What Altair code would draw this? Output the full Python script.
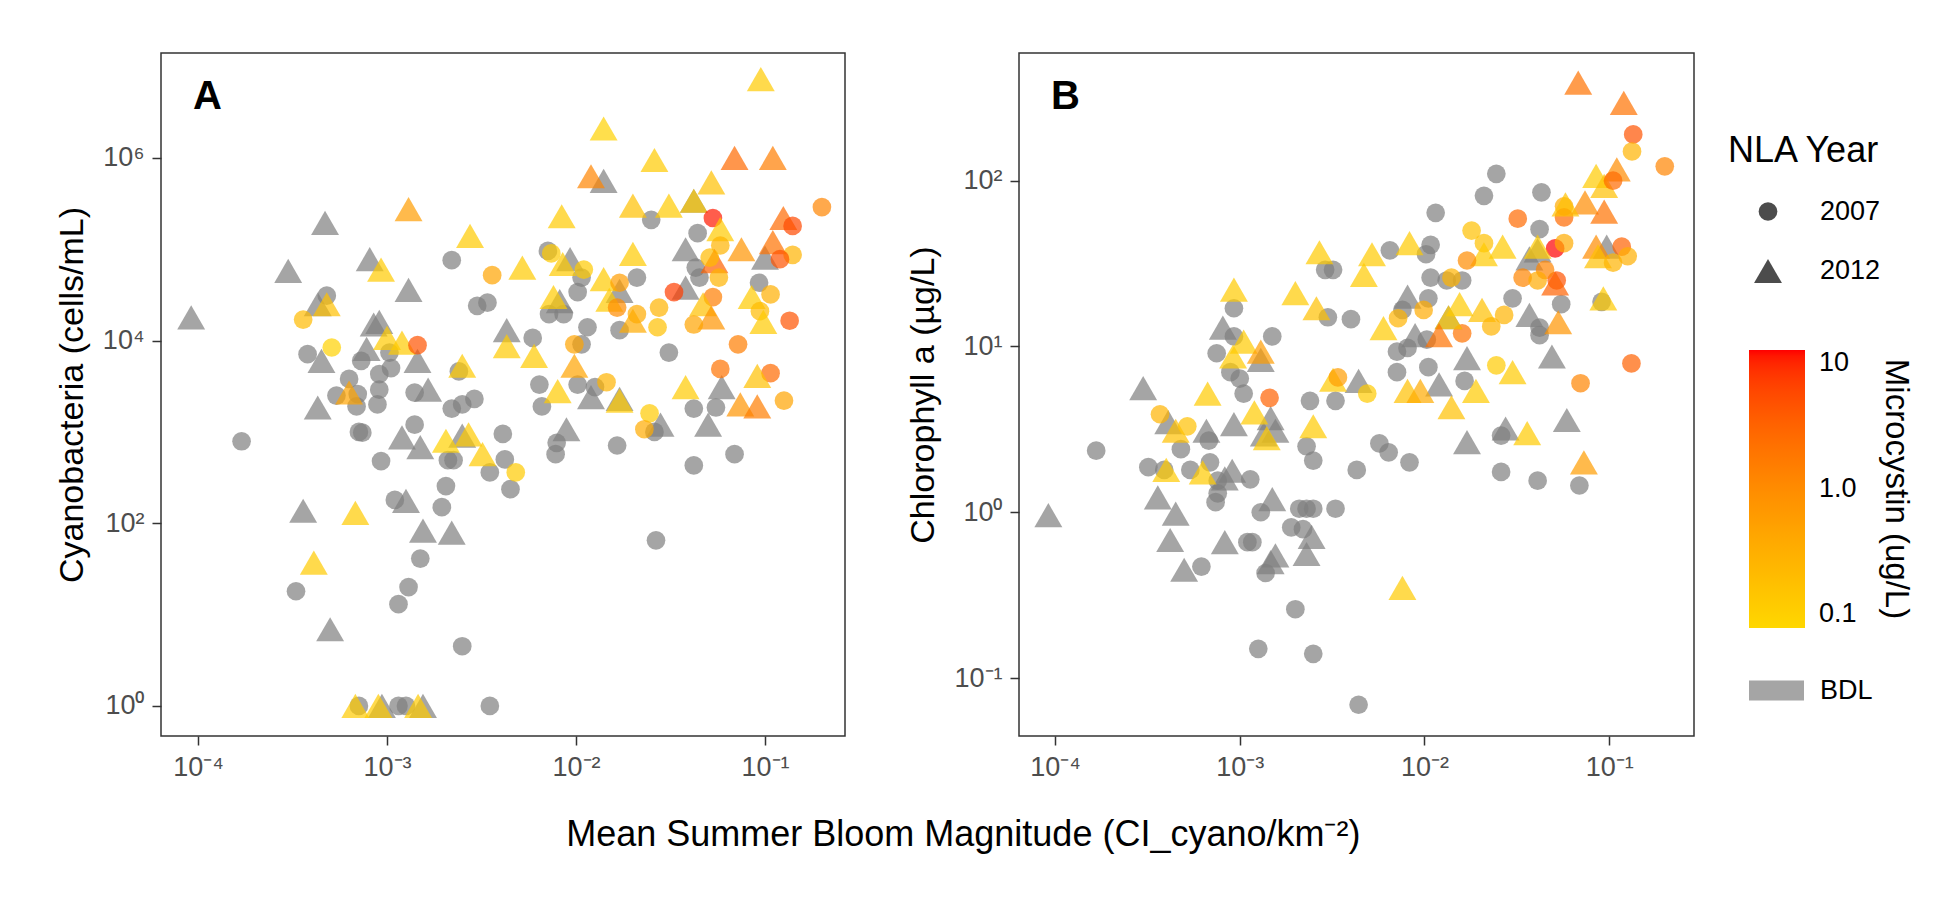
import altair as alt
import pandas as pd

FONT = "Liberation Sans"
N = None

# ---------------- Panel A : Cyanobacteria (cells/mL) ----------------
a_x = [9.2e-5, 4.7e-4, 3.0e-4, 1.3e-3, 2.75e-3, 2.2e-3, 3.6e-3, 8.1e-4, 9.3e-4, 1.3e-3,
       3.0e-3, 3.4e-3, 4.8e-4, 4.3e-4, 4.8e-4, 3.6e-4, 5.1e-4, 3.8e-4, 4.5e-4, 8.5e-4,
       9.1e-4, 1.0e-3, 1.2e-3, 1.45e-3, 7.8e-4, 7.3e-4, 1.03e-3, 1.05e-3, 9.1e-4, 6.3e-4,
       9.1e-4, 5.4e-4, 7.0e-4, 1.45e-3, 2.5e-3, 2.4e-3, 1.65e-3, 1.4e-3, 4.3e-3, 4.3e-3,
       4.3e-4, 6.3e-4, 6.9e-4, 8.9e-4, 2.2e-3, 2.5e-3, 2.9e-3, 1.7e-4, 7.1e-4, 7.4e-4,
       1.4e-3, 1.2e-3, 1.5e-3, 2.05e-3, 2.5e-3, 2.7e-3, 3.2e-3, 2.1e-3, 2.25e-3, 9.3e-4,
       3.5e-3, 4.1e-3, 4.2e-3, 2.05e-3, 1.95e-3, 1.1e-3, 1.26e-3, 3.6e-4, 6.8e-4, 1.55e-3,
       2.2e-3, 1.5e-3, 4.1e-4, 3.3e-4, 1.3e-3, 1.15e-3, 5.0e-4, 2.5e-3, 6.8e-4, 7.1e-4,
       9.0e-4, 9.4e-4, 1.15e-3, 1.26e-3, 1.46e-3, 1.55e-3, 3.5e-3, 9.5e-2, 1.4e-2, 2.6e-2,
       6.9e-2, 1.1e-1, 1.2e-2, 1.4e-2, 5.2e-2, 2.0e-2, 3.1e-2, 4.2e-2, 4.2e-2, 8.4e-3,
       2.5e-2, 5.3e-2, 5.8e-2, 4.4e-2, 2.0e-1, 1.25e-1, 1.4e-1, 5.8e-2, 7.5e-2, 1.1e-1,
       3.8e-2, 1.4e-1, 1.2e-1, 1.0e-1, 5.4e-2, 5.1e-2, 9.3e-3, 7.1e-3, 7.4e-3, 5.2e-3,
       8.5e-3, 1.1e-2, 1.07e-2, 1.02e-2, 2.1e-2, 1.4e-2, 2.0e-2, 1.7e-2, 1.7e-2, 1.5e-2,
       1.65e-2, 7.6e-3, 8.2e-3, 7.2e-3, 8.6e-3, 5.9e-3, 6.0e-3, 9.8e-3, 1.07e-2, 1.15e-2,
       1.7e-2, 2.0e-2, 2.1e-2, 2.7e-2, 2.75e-2, 3.3e-2, 3.8e-2, 4.3e-2, 4.5e-2, 5.7e-2,
       5.3e-2, 4.7e-2, 5.2e-2, 4.2e-2, 9.3e-2, 8.5e-2, 1.07e-1, 9.4e-2, 9.8e-2, 1.35e-1,
       3.1e-2, 7.2e-2, 5.8e-2, 1.07e-1, 9.1e-2, 3.8e-2, 5.9e-2, 9.8e-3, 6.4e-3, 1.02e-2,
       1.26e-2, 1.45e-2, 8.0e-3, 1.7e-2, 1.7e-2, 6.6e-3, 1.2e-2, 2.45e-2, 2.3e-2, 2.8e-2,
       2.6e-2, 4.2e-2, 5.5e-2, 5.0e-2, 7.4e-2, 9.1e-2, 1.26e-1, 8.9e-3, 7.9e-3, 7.8e-3,
       4.8e-3, 4.5e-3, 1.65e-2, 4.2e-2, 6.9e-2, 2.65e-2]
a_y = [1.8e4, 1.95e5, 5.8e4, 2.75e5, 1.4e5, 7.6e4, 5.2e4, 7.8e4, 6.0e4, 3.6e4,
       2.4e4, 2.6e4, 3.1e4, 2.5e4, 2.5e4, 1.7e4, 8.4e3, 7.1e3, 6.0e3, 1.5e4,
       1.6e4, 1.07e4, 9.5e3, 8.9e3, 8.1e3, 6.0e3, 7.4e3, 5.0e3, 4.3e3, 3.8e3,
       2.9e3, 2.5e3, 2.6e3, 6.0e3, 5.3e3, 4.6e3, 2.9e3, 2.7e3, 1.3e4, 8.7e3,
       1.85e3, 2.7e3, 1.9e3, 2.0e3, 1.8e3, 2.0e3, 2.3e3, 790, 1.0e3, 980,
       1.2e3, 870, 680, 800, 910, 940, 570, 490, 490, 480,
       360, 950, 500, 255, 150, 180, 176, 137, 130, 83,
       79, 41, 37, 18, 20, 13, 6.9, 4.5, 1, 1,
       1, 1, 1, 1, 1, 1, 1, 7.3e6, 2.1e6, 9.5e5,
       1.0e6, 1.0e6, 6.3e5, 5.6e5, 5.4e5, 3.0e5, 3.0e5, 3.4e5, 3.4e5, 2.3e5,
       2.1e5, 2.2e5, 1.66e5, 1.5e5, 2.9e5, 2.2e5, 1.8e5, 1.1e5, 1.0e5, 1.2e5,
       1.0e5, 8.7e4, 7.8e4, 8.1e4, 7.4e4, 8.1e4, 7.8e4, 9.6e4, 9.0e4, 6.3e4,
       6.9e4, 6.0e4, 4.9e4, 3.4e4, 4.9e4, 4.7e4, 8.9e4, 4.3e4, 3.5e4, 2.8e4,
       2.3e4, 3.0e4, 2.7e4, 1.95e4, 1.95e4, 1.07e4, 6.8e3, 9.1e3, 9.1e3, 1.4e4,
       1.3e4, 1.65e4, 1.95e4, 1.4e4, 2.3e4, 3.4e4, 3.8e4, 6.3e4, 4.9e4, 4.9e4,
       3.0e4, 2.5e4, 1.8e4, 1.5e4, 4.3e4, 3.0e4, 3.2e4, 2.1e4, 1.6e4, 1.65e4,
       7.4e3, 9.1e3, 4.9e3, 4.4e3, 4.1e3, 3.1e3, 3.1e3, 5.3e3, 3.3e3, 3.3e3,
       3.1e3, 3.5e3, 2.8e3, 2.3e3, 2.2e3, 1.9e3, 2.4e3, 1.6e3, 1.07e3, 1.2e3,
       1.0e3, 1.8e3, 1.85e3, 1.2e3, 2.0e3, 1.9e3, 2.2e3, 1.07e3, 760, 570,
       360, 236, 710, 430, 570, 65]
a_year = [2012, 2012, 2012, 2012, 2012, 2007, 2007, 2012, 2012, 2012,
          2007, 2007, 2007, 2012, 2012, 2007, 2007, 2007, 2012, 2012,
          2012, 2012, 2012, 2007, 2012, 2007, 2007, 2007, 2007, 2007,
          2007, 2007, 2007, 2012, 2012, 2007, 2012, 2007, 2012, 2012,
          2012, 2012, 2007, 2007, 2007, 2007, 2007, 2007, 2007, 2007,
          2007, 2012, 2012, 2012, 2012, 2012, 2012, 2007, 2007, 2007,
          2007, 2007, 2007, 2007, 2007, 2007, 2012, 2012, 2012, 2012,
          2012, 2007, 2012, 2007, 2007, 2007, 2012, 2007, 2012, 2007,
          2012, 2012, 2007, 2007, 2012, 2012, 2007, 2012, 2012, 2012,
          2012, 2012, 2012, 2012, 2012, 2012, 2012, 2012, 2012, 2012,
          2007, 2007, 2012, 2007, 2007, 2012, 2007, 2007, 2012, 2012,
          2012, 2007, 2007, 2012, 2012, 2007, 2012, 2007, 2007, 2012,
          2012, 2007, 2007, 2007, 2007, 2012, 2012, 2007, 2012, 2012,
          2007, 2012, 2012, 2007, 2007, 2007, 2012, 2007, 2007, 2007,
          2007, 2012, 2007, 2007, 2007, 2007, 2012, 2007, 2007, 2007,
          2007, 2012, 2012, 2007, 2007, 2012, 2007, 2007, 2012, 2007,
          2007, 2007, 2007, 2007, 2012, 2012, 2012, 2012, 2007, 2007,
          2007, 2007, 2012, 2012, 2012, 2007, 2012, 2007, 2007, 2012,
          2007, 2007, 2007, 2012, 2012, 2012, 2007, 2012, 2007, 2007,
          2007, 2007, 2007, 2007, 2007, 2007]
a_mc = [N, N, N, 0.6, 0.15, N, 0.5, N, 0.15, N,
        N, N, N, N, 0.2, 0.25, 0.12, N, N, N,
        N, 0.15, 0.15, 4, N, N, N, N, N, N,
        N, N, N, N, 0.15, N, N, N, N, 0.15,
        N, 0.5, N, N, N, N, N, N, N, N,
        N, N, N, 0.12, N, 0.15, 0.15, N, N, N,
        N, N, N, N, N, N, N, N, 0.15, N,
        N, N, 0.15, N, N, N, N, N, 0.15, N,
        0.15, N, N, N, 0.15, N, N, 0.15, 0.12, 0.15,
        2.5, 1.5, 1.2, N, 0.2, 0.2, 0.15, 0.15, N, 0.15,
        N, 9, 0.15, N, 1.2, 2.5, 5, 0.3, 0.8, 2,
        N, 0.3, 4, N, 3, 0.25, N, N, 0.15, 0.15,
        0.15, 0.15, N, N, N, 0.15, 0.15, 0.6, N, 0.15,
        1.0, 0.15, N, N, N, N, 0.15, 0.5, N, N,
        N, 0.4, 0.4, 0.2, 0.3, 6, N, N, N, 0.3,
        1.5, 0.2, 0.8, 0.5, N, 0.15, 0.35, 0.25, 0.15, 4,
        N, 1.5, 2, 2.5, 0.2, 0.15, N, 0.5, N, N,
        N, 0.3, 0.15, N, 0.15, N, N, 0.15, 0.4, N,
        N, N, N, N, 0.8, 1.5, 0.5, N, N, N,
        0.15, N, N, N, N, N]

# ---------------- Panel B : Chlorophyll a (ug/L) ----------------
b_x = [2.7e-3, 2.9e-3, 3.2e-3, 9.3e-4, 9.3e-4, 2.0e-3, 2.6e-3, 3.0e-3, 8.1e-4, 1.5e-3,
       9.3e-4, 1.05e-3, 7.5e-4, 1.3e-3, 1.3e-3, 9.2e-4, 8.9e-4, 1.0e-3, 1.05e-3, 3.0e-4,
       6.7e-4, 1.45e-3, 2.4e-3, 3.2e-3, 3.4e-3, 6.8e-2, 1.2e-1, 1.35e-1, 1.33e-1, 2.45e-2,
       2.1e-2, 4.3e-2, 1.15e-2, 8.5e-2, 1.1e-1, 9.4e-2, 1.05e-1, 7.4e-2, 9.4e-2, 5.7e-2,
       5.7e-2, 5.8e-2, 5.1e-2, 5.7e-2, 1.17e-1, 3.2e-2, 4.2e-2, 4.1e-2, 1.8e-2, 2.1e-2,
       2.65e-2, 2.1e-2, 8.3e-3, 6.5e-3, 1.08e-2, 1.02e-2, 5.2e-3, 4.7e-3, 1.7e-2, 1.08e-2,
       1.32e-2, 1.6e-2, 1.4e-2, 3.7e-2, 4.1e-2, 3.4e-2, 5.2e-2, 5.1e-2, 4.5e-2, 4.1e-2,
       8.5e-2, 9.7e-2, 8.7e-2, 1.05e-1, 1.26e-1, 3.0e-2, 8.1e-3, 1.05e-2, 7.6e-3, 9.9e-3,
       1.55e-2, 2.05e-2, 2.7e-2, 2.3e-2, 3.7e-2, 4.2e-2, 4.2e-2, 5.3e-2, 5.5e-2, 9.1e-2,
       9.3e-2, 1.6e-2, 1.35e-2, 1.35e-2, 6.0e-3, 7.2e-3, 4.0e-3, 1.2e-2, 8.9e-3, 7.1e-3,
       8.1e-3, 1.03e-2, 7.1e-3, 1.05e-2, 1.7e-2, 2.45e-2, 3.0e-2, 4.9e-2, 1.32e-1, 7.0e-2,
       1.65e-2, 1.2e-2, 8.1e-3, 9.5e-3, 1.9e-2, 4.4e-3, 4.9e-3, 3.7e-4, 4.1e-4, 5.2e-4,
       4.5e-4, 4.8e-4, 6.6e-4, 6.8e-4, 9.3e-4, 1.2e-3, 1.47e-3, 1.56e-3, 1.4e-3, 1.35e-3,
       2.5e-3, 2.3e-3, 2.5e-3, 3.3e-3, 1.67e-4, 3.2e-4, 3.9e-4, 4.0e-4, 5.4e-4, 6.3e-4,
       6.9e-4, 7.6e-4, 7.6e-4, 7.4e-4, 9.1e-4, 8.3e-4, 1.14e-3, 3.6e-4, 4.5e-4, 9.2e-5,
       4.2e-4, 5.0e-4, 6.2e-4, 8.3e-4, 1.1e-3, 1.17e-3, 1.5e-3, 1.3e-3, 1.56e-3, 1.47e-3,
       1.38e-3, 2.1e-3, 2.3e-3, 2.5e-3, 1.9e-3, 2.2e-3, 2.45e-3, 2.3e-3, 3.3e-3, 2.0e-3,
       1.26e-3, 2.5e-3, 1.4e-2, 5.7e-3, 6.4e-3, 8.3e-3, 4.3e-3, 1.7e-2, 2.75e-2, 2.6e-2,
       3.6e-2, 5.9e-2, 7.3e-2, 2.6e-2, 4.1e-2, 6.9e-2, 7.6e-3, 4.4e-3, 2.0e-1]
b_y = [37, 29, 29, 22, 17, 21, 17, 15, 13, 11.5,
       11.5, 10.7, 9.1, 9.3, 8.3, 8.7, 7.0, 6.4, 5.2, 5.6,
       5.2, 4.9, 4.7, 6.3, 6.5, 390, 295, 190, 150, 110,
       81, 85, 64, 107, 117, 93, 100, 74, 65, 70,
       60, 72, 39, 42, 40, 59, 51, 40, 50, 42,
       40, 36, 42, 38, 41, 36, 36, 27, 33, 26,
       25, 25, 26, 34, 38, 26, 25, 24, 29, 25,
       40, 40, 35, 32, 35, 19.5, 20, 19.5, 16.6, 16.6,
       18, 16.6, 15.5, 13.2, 15.5, 13, 11.7, 14, 18, 18.6,
       19.5, 12, 15, 15, 12.9, 14.8, 14.6, 11.7, 11.7, 9.3,
       9.8, 11, 7.0, 7.5, 8.5, 7.7, 7.0, 8.7, 7.9, 6.0,
       6.2, 5.9, 5.4, 5.4, 5.4, 6.2, 5.2, 3.9, 3.5, 3.3,
       3.1, 2.4, 3.1, 2.7, 3.4, 4.0, 3.7, 3.1, 2.8, 2.95,
       3.3, 2.5, 2.05, 4.7, 2.35, 1.87, 1.8, 1.8, 1.8, 1.74,
       2.0, 1.55, 1.3, 1.15, 1.78, 1.6, 1.58, 1.23, 0.98, 0.96,
       0.68, 0.45, 0.47, 0.66, 0.66, 0.66, 1.2, 1.0, 0.55, 0.5,
       0.43, 1.05, 1.05, 1.05, 0.81, 0.79, 0.71, 0.56, 1.05, 0.26,
       0.15, 0.14, 4.3, 2.6, 2.3, 2.0, 1.8, 2.65, 3.2, 2.9,
       3.0, 3.6, 2.0, 1.75, 1.55, 1.45, 0.35, 0.069, 122]
b_year = [2012, 2007, 2007, 2012, 2007, 2012, 2012, 2007, 2012, 2007,
          2007, 2012, 2007, 2012, 2012, 2012, 2007, 2007, 2007, 2012,
          2012, 2007, 2007, 2012, 2007, 2012, 2012, 2007, 2007, 2007,
          2007, 2007, 2007, 2012, 2012, 2012, 2007, 2012, 2012, 2007,
          2007, 2012, 2007, 2007, 2007, 2007, 2007, 2012, 2007, 2007,
          2012, 2012, 2012, 2007, 2007, 2007, 2012, 2012, 2007, 2007,
          2007, 2007, 2007, 2012, 2012, 2007, 2007, 2012, 2007, 2007,
          2012, 2012, 2012, 2007, 2007, 2007, 2012, 2007, 2007, 2007,
          2012, 2012, 2007, 2007, 2012, 2007, 2007, 2012, 2007, 2007,
          2012, 2007, 2012, 2012, 2012, 2007, 2007, 2012, 2012, 2007,
          2007, 2007, 2007, 2007, 2012, 2007, 2012, 2012, 2007, 2007,
          2007, 2012, 2012, 2012, 2012, 2012, 2007, 2007, 2012, 2007,
          2012, 2007, 2012, 2007, 2012, 2012, 2012, 2012, 2012, 2012,
          2012, 2007, 2007, 2007, 2007, 2007, 2007, 2012, 2007, 2012,
          2007, 2007, 2007, 2007, 2012, 2012, 2007, 2012, 2012, 2012,
          2012, 2012, 2007, 2012, 2007, 2007, 2012, 2007, 2012, 2012,
          2007, 2007, 2007, 2007, 2007, 2007, 2012, 2012, 2007, 2007,
          2007, 2007, 2012, 2007, 2007, 2007, 2007, 2012, 2012, 2007,
          2012, 2012, 2012, 2007, 2007, 2007, 2012, 2007, 2007]
b_mc = [0.15, N, N, 0.15, N, 0.15, 0.2, N, N, N,
        N, 0.15, N, 0.6, N, 0.15, N, N, N, N,
        0.15, 3, N, 0.15, 0.6, 2, 2, 4, 0.3, N,
        N, N, N, 0.15, 1, 0.2, 2.5, 1, 2, 0.4,
        2.5, 0.2, 10, 0.4, 3, 2.5, N, 0.15, 0.2, 0.2,
        0.15, 0.15, 0.15, N, N, N, 0.15, 0.15, 1, N,
        N, N, 0.3, N, N, 1.2, 4, 3, 1.2, 0.4,
        1, N, 0.2, 0.3, 0.35, N, N, N, N, 0.4,
        0.15, 0.2, 0.3, 0.3, N, N, N, 0.8, N, N,
        0.15, 2, 0.15, N, 0.15, 0.3, N, 2, N, N,
        N, N, N, N, N, 0.15, 0.15, N, 3, 1.2,
        N, N, 0.2, 0.4, 0.15, N, 0.15, 0.3, N, 0.2,
        0.2, N, N, N, N, 0.15, N, N, 0.15, N,
        0.15, N, N, N, N, N, N, 0.15, N, 0.15,
        N, N, N, N, N, N, N, N, N, N,
        N, N, N, N, N, N, N, N, N, N,
        N, N, N, N, N, N, N, N, N, N,
        N, N, 0.2, N, N, N, N, N, N, N,
        0.15, N, 0.6, N, N, N, 0.15, N, 1.2]

years = ["2007", "2012"]
x_ticks = [1e-4, 1e-3, 1e-2, 1e-1]
a_y_ticks = [1, 1e2, 1e4, 1e6]
b_y_ticks = [0.1, 1, 10, 100]
mc_ticks = [0.1, 1, 10]
mc_labels_expr = "datum.value >= 5 ? '10' : datum.value >= 0.5 ? '1.0' : '0.1'"

SUP = ("'10' + (datum.value < 1 ? '\u207b' : '') + "
       "substring('\u2070\u00b9\u00b2\u00b3\u2074\u2075\u2076\u2077\u2078\u2079', "
       "abs(round(log(datum.value) / LN10)), abs(round(log(datum.value) / LN10)) + 1)")


def frame(xs, ys, yrs, mcs):
    return pd.DataFrame({
        "x": xs, "y": ys,
        "year": [str(v) for v in yrs],
        "mc": mcs,
        "bdl": ["BDL"] * len(xs),
    })


# legend positions are relative to the top-left corner of panel A's plot area
shape_legend = alt.Legend(
    title="NLA Year", orient="none", legendX=1567, legendY=81,
    titleFontSize=36, titleFontWeight="normal", titleColor="black",
    labelFontSize=27, labelColor="black",
    symbolFillColor="black", symbolStrokeColor="black", symbolOpacity=0.7,
    symbolStrokeWidth=0, rowPadding=32, titlePadding=28, labelOffset=38,
    symbolOffset=26)

mc_legend = alt.Legend(
    title="Microcystin (ug/L)", orient="none", legendX=1588, legendY=297,
    direction="vertical", gradientLength=278, gradientThickness=56,
    values=mc_ticks, labelExpr=mc_labels_expr,
    titleOrient="right", titleFontSize=33, titleLimit=500, titleAnchor="middle",
    titleFontWeight="normal", titleColor="black", titlePadding=22,
    labelFontSize=27, labelColor="black", labelOffset=14,
    gradientStrokeWidth=0, gradientOpacity=1)

bdl_legend = alt.Legend(
    title=None, orient="none", legendX=1588, legendY=610,
    symbolType="M-1,-0.36L1,-0.36L1,0.36L-1,0.36Z", symbolSize=3025,
    symbolOpacity=0.7, symbolStrokeWidth=0,
    labelFontSize=27, labelColor="black", labelOffset=16)


def panel(df, ytitle, xdom, ydom, yticks, letter, w, h):
    base = alt.Chart(df)
    x = alt.X("x:Q", scale=alt.Scale(type="log", domain=xdom, nice=False),
              axis=alt.Axis(values=x_ticks, labelExpr=SUP, title=None, labelPadding=9))
    y = alt.Y("y:Q", scale=alt.Scale(type="log", domain=ydom, nice=False),
              axis=alt.Axis(values=yticks, labelExpr=SUP, title=ytitle, labelPadding=8))
    shape = alt.Shape("year:N", scale=alt.Scale(domain=years, range=["circle", "triangle-up"]),
                      legend=shape_legend)
    size = alt.Size("year:N", scale=alt.Scale(type="ordinal", domain=years, range=[350, 780]),
                    legend=shape_legend)
    gray = base.transform_filter("!isValid(datum.mc)").mark_point(
        filled=True, opacity=0.7, strokeWidth=0).encode(
        x=x, y=y, shape=shape, size=size,
        fill=alt.Fill("bdl:N", scale=alt.Scale(domain=["BDL"], range=["#7f7f7f"]),
                      legend=bdl_legend))
    col = base.transform_filter("isValid(datum.mc)").mark_point(
        filled=True, opacity=0.7, strokeWidth=0).encode(
        x=x, y=y, shape=shape, size=size,
        color=alt.Color("mc:Q", scale=alt.Scale(type="log", domain=[0.1, 10],
                                                range=["#FFD700", "#FF0000"],
                                                interpolate="lab", clamp=True),
                        legend=mc_legend))
    lab = alt.Chart(pd.DataFrame({"t": [letter]})).mark_text(
        font=FONT, fontSize=40, fontWeight="bold", align="left", baseline="top",
        color="black").encode(text="t:N", x=alt.value(32), y=alt.value(24))
    return alt.layer(gray, col, lab).properties(width=w, height=h)


pA = panel(frame(a_x, a_y, a_year, a_mc), "Cyanobacteria (cells/mL)",
           [6.37e-5, 0.265], [0.468, 1.41e7], a_y_ticks, "A", 684, 683)
pB = panel(frame(b_x, b_y, b_year, b_mc), "Chlorophyll a (\u00b5g/L)",
           [6.38e-5, 0.288], [0.0447, 589], b_y_ticks, "B", 675, 683)

chart = alt.hconcat(pA, pB, spacing=60).resolve_scale(
    x="independent", y="independent", color="shared", shape="shared",
    size="shared", fill="shared"
).properties(
    title=alt.TitleParams("Mean Summer Bloom Magnitude (CI_cyano/km\u207b\u00b2)",
                          orient="bottom", anchor="middle", fontSize=36,
                          fontWeight="normal", font=FONT, color="black",
                          offset=37, dx=-20),
    padding={"left": 46, "top": 44, "right": 5, "bottom": 5},
    background="white",
).configure_axis(
    labelFont=FONT, titleFont=FONT, labelFontSize=27, labelColor="#4d4d4d",
    titleFontSize=34, titleFontWeight="normal", titleColor="black",
    tickColor="#333333", tickSize=9, tickWidth=1.5,
    titlePadding=13, domain=False, grid=False
).configure_legend(
    titleFont=FONT, labelFont=FONT
).configure_view(
    stroke="#333333", strokeWidth=1.5
)

chart.save("out.html", embed_options={"renderer": "svg", "actions": False})
